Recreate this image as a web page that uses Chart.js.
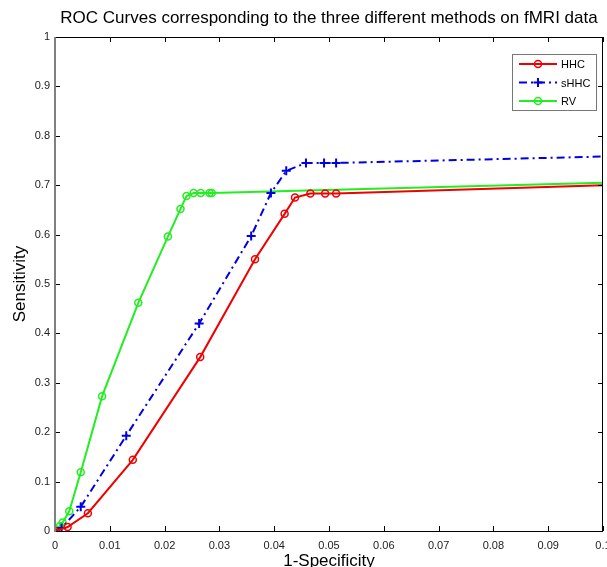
<!DOCTYPE html>
<html lang="en">
<head>
    <meta charset="UTF-8">
    <title>ROC Curves</title>
    <script src="https://cdn.jsdelivr.net/npm/chart.js"></script>
    <style>
        html, body { margin: 0; padding: 0; background: #fff; overflow: hidden; }
        #wrap { width: 620px; height: 572px; }
    </style>
</head>
<body>
<div id="wrap">
    <canvas id="rocChart" width="620" height="572"></canvas>
</div>
<script>
    // data
    const hhcX = [0, 0.0023, 0.0060, 0.0142, 0.0265, 0.0365, 0.0419, 0.0438, 0.0466, 0.0493, 0.0513, 0.1];
    const hhcY = [0, 0.008, 0.036, 0.144, 0.352, 0.550, 0.642, 0.675, 0.683, 0.683, 0.683, 0.700];

    const shhcX = [0, 0.0012, 0.0047, 0.0130, 0.0263, 0.0358, 0.0394, 0.0422, 0.0458, 0.0491, 0.0513, 0.1];
    const shhcY = [0, 0.006, 0.049, 0.193, 0.420, 0.597, 0.684, 0.729, 0.745, 0.745, 0.745, 0.758];

    const rvX = [0, 0.0002, 0.0009, 0.0014, 0.0026, 0.0047, 0.0086, 0.0152, 0.0206, 0.0229, 0.0240, 0.0253, 0.0266, 0.0282, 0.0286, 0.1];
    const rvY = [0, 0.003, 0.010, 0.017, 0.040, 0.119, 0.273, 0.462, 0.596, 0.652, 0.678, 0.684, 0.684, 0.684, 0.684, 0.705];

    const seriesNames = ['HHC', 'sHHC', 'RV'];
    const xTicks = [0, 0.01, 0.02, 0.03, 0.04, 0.05, 0.06, 0.07, 0.08, 0.09, 0.1];
    const yTicks = [0, 0.1, 0.2, 0.3, 0.4, 0.5, 0.6, 0.7, 0.8, 0.9, 1];
    const titleText = 'ROC Curves corresponding to the three different methods on fMRI data';

    const pts = (xs, ys) => xs.map((x, i) => ({ x: x, y: ys[i] }));
    // no marker on the last point, it sits on the clipped right edge
    const markerSize = r => (c => c.dataIndex === c.dataset.data.length - 1 ? 0 : r);

    const FONT = "'Liberation Sans', Arial, sans-serif";

    // inward ticks + box + legend + title, MATLAB style
    const matlabBox = {
        id: 'matlabBox',
        afterDatasetsDraw(chart) {
            const c = chart.ctx;
            const a = chart.chartArea;
            const xs = chart.scales.x, ys = chart.scales.y;
            c.save();

            c.fillStyle = '#000';
            c.font = '17px ' + FONT;
            c.textAlign = 'center';
            c.textBaseline = 'middle';
            c.fillText(titleText, (a.left + a.right) / 2, 18);
            c.textAlign = 'left';

            c.strokeStyle = '#000';
            c.lineWidth = 1;
            c.beginPath();
            xTicks.forEach(v => {
                const px = Math.round(xs.getPixelForValue(v)) + 0.5;
                c.moveTo(px, a.bottom); c.lineTo(px, a.bottom - 5);
                c.moveTo(px, a.top); c.lineTo(px, a.top + 5);
            });
            yTicks.forEach(v => {
                const py = Math.round(ys.getPixelForValue(v)) + 0.5;
                c.moveTo(a.left, py); c.lineTo(a.left + 5, py);
                c.moveTo(a.right, py); c.lineTo(a.right - 5, py);
            });
            c.stroke();
            // box
            c.beginPath();
            c.moveTo(a.left, a.bottom + 0.5); c.lineTo(a.right, a.bottom + 0.5);
            c.moveTo(a.left, a.top + 0.5); c.lineTo(a.right, a.top + 0.5);
            c.moveTo(a.right - 0.5, a.top); c.lineTo(a.right - 0.5, a.bottom);
            c.stroke();
            c.strokeStyle = '#808080';
            c.lineWidth = 2;
            c.beginPath();
            c.moveTo(a.left, a.top); c.lineTo(a.left, a.bottom + 1);
            c.stroke();

            // legend
            const lx = 512, ly = 54, lw = 84, lh = 56;
            c.fillStyle = '#fff';
            c.fillRect(lx, ly, lw, lh);
            c.strokeStyle = '#777';
            c.lineWidth = 1;
            c.strokeRect(lx + 0.5, ly + 0.5, lw, lh);
            chart.data.datasets.forEach((ds, i) => {
                const y = ly + 10 + i * 18.5;
                const r = ds.legendMarker;
                c.strokeStyle = ds.borderColor;
                c.lineWidth = ds.borderWidth;
                c.setLineDash(ds.borderDash || []);
                c.beginPath();
                c.moveTo(lx + 7, y); c.lineTo(lx + 45, y);
                c.stroke();
                c.setLineDash([]);
                c.lineWidth = ds.pointBorderWidth;
                c.beginPath();
                const mx = lx + 26;
                if (ds.pointStyle === 'cross') {
                    c.moveTo(mx - r, y); c.lineTo(mx + r, y);
                    c.moveTo(mx, y - r); c.lineTo(mx, y + r);
                } else {
                    c.arc(mx, y, r, 0, Math.PI * 2);
                }
                c.stroke();
                c.fillStyle = '#000';
                c.font = '11px ' + FONT;
                c.textBaseline = 'middle';
                c.fillText(ds.label, lx + 49, y + 1);
            });
            c.restore();
        }
    };

    new Chart(document.getElementById('rocChart'), {
        type: 'line',
        data: {
            datasets: [
                {
                    label: seriesNames[0],
                    data: pts(hhcX, hhcY),
                    borderColor: '#f00000',
                    borderWidth: 2,
                    pointStyle: 'circle',
                    pointRadius: markerSize(3.5),
                    legendMarker: 3.5,
                    pointBorderWidth: 1.5,
                    pointBorderColor: '#f00000',
                    pointBackgroundColor: 'rgba(0,0,0,0)'
                },
                {
                    label: seriesNames[1],
                    data: pts(shhcX, shhcY),
                    borderColor: '#0000e0',
                    borderWidth: 2,
                    borderDash: [8, 4, 2, 4],
                    pointStyle: 'cross',
                    pointRadius: markerSize(4.5),
                    legendMarker: 4.5,
                    pointBorderWidth: 2,
                    pointBorderColor: '#0000e0',
                    pointBackgroundColor: 'rgba(0,0,0,0)'
                },
                {
                    label: seriesNames[2],
                    data: pts(rvX, rvY),
                    borderColor: '#22ee22',
                    borderWidth: 2,
                    pointStyle: 'circle',
                    pointRadius: markerSize(3.5),
                    legendMarker: 3.5,
                    pointBorderWidth: 1.5,
                    pointBorderColor: '#22ee22',
                    pointBackgroundColor: 'rgba(0,0,0,0)'
                }
            ]
        },
        options: {
            responsive: false,
            animation: false,
            layout: { padding: { left: 0, right: 17, top: 37, bottom: 0 } },
            elements: { line: { tension: 0 } },
            plugins: {
                legend: { display: false },
                tooltip: { enabled: false },
                title: { display: false }
            },
            scales: {
                x: {
                    type: 'linear',
                    min: 0,
                    max: 0.1,
                    grid: { display: false, drawTicks: false },
                    border: { display: false },
                    afterBuildTicks: s => { s.ticks = xTicks.map(v => ({ value: v })); },
                    afterFit: s => { s.height = 41; },
                    ticks: {
                        color: '#222',
                        padding: 8,
                        autoSkip: false,
                        maxRotation: 0,
                        font: { family: FONT, size: 11 },
                        callback: v => String(Number(v.toFixed(2)))
                    },
                    title: {
                        display: true,
                        text: '1-Specificity',
                        color: '#000',
                        font: { family: FONT, size: 17 },
                        padding: { top: 0, bottom: 0 }
                    }
                },
                y: {
                    type: 'linear',
                    min: 0,
                    max: 1,
                    grid: { display: false, drawTicks: false },
                    border: { display: false },
                    afterBuildTicks: s => { s.ticks = yTicks.map(v => ({ value: v })); },
                    afterFit: s => { s.width = 55; },
                    ticks: {
                        color: '#222',
                        padding: 5,
                        autoSkip: false,
                        font: { family: FONT, size: 11 },
                        callback: v => String(Number(v.toFixed(1)))
                    },
                    title: {
                        display: true,
                        text: 'Sensitivity',
                        color: '#000',
                        font: { family: FONT, size: 17 },
                        padding: { top: 10, bottom: 0 }
                    }
                }
            }
        },
        plugins: [matlabBox]
    });
</script>
</body>
</html>
